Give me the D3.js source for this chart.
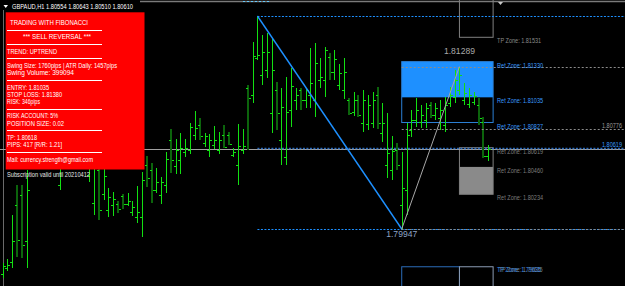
<!DOCTYPE html>
<html><head><meta charset="utf-8">
<script src="https://cdn.jsdelivr.net/npm/d3@7"></script>
<style>html,body{margin:0;padding:0;background:#000;overflow:hidden}</style>
</head><body><div id="chart"></div>
<script>
// ---- DATA ----
const symbolTitle = "GBPAUD,H1  1.80554 1.80643 1.80510 1.80610";
const barOpen = [1.79575,1.79625,1.79674,1.80145,1.80228,1.79848,1.80517,1.80765,1.80600,1.80682,
1.80889,1.80641,1.80311,1.80517,1.80724,1.80600,1.80724,1.80947,1.80393,1.80162,
1.80435,1.80236,1.80104,1.80145,1.80154,1.80220,1.80154,1.80087,1.80046,1.80046,
1.80476,1.80435,1.80269,1.80228,1.80311,1.80682,1.80468,1.80517,1.80583,1.80600,
1.80724,1.80806,1.80658,1.80600,1.80641,1.80600,1.80724,1.80724,1.80559,1.80476,
1.80600,1.81112,1.81054,1.81360,1.81219,1.81261,1.80905,1.81096,1.80682,1.80542,
1.80930,1.81013,1.81096,1.81013,1.81054,1.81013,1.81178,1.81178,1.81368,1.81244,
1.81137,1.81096,1.81013,1.80914,1.81013,1.80823,1.80815,1.80823,1.81054,1.80740,
1.80476,1.80435,1.80600,1.80145,1.80269,1.80765,1.80848,1.80831,1.80848,1.80971,
1.80889,1.80864,1.80806,1.80988,1.81038,1.81096,1.81013,1.80980,1.80996,1.80971,
1.80831,1.80554];
const barHigh = [1.79666,1.79699,1.80063,1.80311,1.80311,1.80435,1.80765,1.80848,1.80806,1.80930,
1.80971,1.80682,1.80600,1.80765,1.80806,1.80889,1.81013,1.81013,1.80682,1.80600,
1.80476,1.80443,1.80286,1.80253,1.80178,1.80236,1.80244,1.80178,1.80302,1.80418,
1.80550,1.80492,1.80451,1.80377,1.80583,1.80773,1.80691,1.80740,1.80691,1.80823,
1.80922,1.80864,1.80740,1.80732,1.80798,1.80748,1.80806,1.80748,1.80616,1.80815,
1.80773,1.81137,1.81492,1.81707,1.81550,1.81567,1.81525,1.81162,1.81112,1.81203,
1.81277,1.81112,1.81112,1.81112,1.81443,1.81484,1.81360,1.81451,1.81401,1.81426,
1.81310,1.81360,1.81029,1.81079,1.81054,1.81096,1.81054,1.81079,1.81120,1.80988,
1.80905,1.80715,1.80658,1.80583,1.80823,1.80930,1.81029,1.80971,1.80988,1.80996,
1.80988,1.81013,1.81038,1.81120,1.81261,1.81289,1.81153,1.81112,1.81079,1.81029,
1.80872,1.80643];
const barLow = [1.79542,1.79600,1.79625,1.79716,1.79707,1.79625,1.80451,1.80476,1.80517,1.80600,
1.80517,1.80451,1.80269,1.80476,1.80517,1.80559,1.80682,1.80600,1.80335,1.80063,
1.80021,1.80187,1.80046,1.80054,1.80079,1.80112,1.80137,1.80054,1.79997,1.79881,
1.80294,1.80162,1.80244,1.80154,1.80244,1.80410,1.80401,1.80401,1.80542,1.80567,
1.80682,1.80682,1.80625,1.80542,1.80608,1.80567,1.80616,1.80641,1.80542,1.80311,
1.80567,1.80600,1.80988,1.81343,1.81137,1.81195,1.80740,1.80765,1.80476,1.80476,
1.80790,1.80930,1.80930,1.80947,1.80947,1.80872,1.81112,1.81038,1.81178,1.81178,
1.81096,1.81021,1.80889,1.80881,1.80872,1.80748,1.80765,1.80782,1.80773,1.80666,
1.80368,1.80352,1.80435,1.79947,1.80063,1.80707,1.80790,1.80782,1.80782,1.80864,
1.80848,1.80765,1.80748,1.80955,1.80988,1.81054,1.80971,1.80947,1.80971,1.80806,
1.80534,1.80510];
const barClose = [1.79641,1.79650,1.79848,1.79856,1.79815,1.80269,1.80682,1.80559,1.80765,1.80864,
1.80600,1.80517,1.80517,1.80699,1.80600,1.80848,1.80947,1.80682,1.80600,1.80517,
1.80104,1.80385,1.80211,1.80195,1.80112,1.80154,1.80178,1.80129,1.80087,1.80352,
1.80368,1.80269,1.80335,1.80335,1.80526,1.80517,1.80600,1.80616,1.80616,1.80790,
1.80782,1.80715,1.80715,1.80682,1.80682,1.80682,1.80625,1.80649,1.80583,1.80633,
1.80633,1.81029,1.81376,1.81385,1.81410,1.81410,1.81261,1.80905,1.80955,1.80914,
1.81129,1.81054,1.81013,1.81096,1.81153,1.81319,1.81203,1.81426,1.81244,1.81352,
1.81236,1.81244,1.80905,1.81013,1.80889,1.81013,1.80971,1.81013,1.80823,1.80823,
1.80575,1.80592,1.80476,1.80286,1.80724,1.80848,1.80930,1.80889,1.80947,1.80889,
1.80947,1.80930,1.80971,1.81054,1.81178,1.81219,1.81071,1.81054,1.81046,1.80864,
1.80554,1.80610];
const currentPrice = 1.80610;
// swing (fib A) and retracement leg (fib B): [bar index, price]
const swingHigh = [53, 1.81707];
const swingLow = [83, 1.79947];
const retHigh = [95, 1.81289];
const fibALevels = [1.81707, 1.80619, 1.79947];
const fibBLevels = [1.81289, 1.80776, 1.79947];
const futureIdx = 102;
const sellZone = [1.81330, 1.81035, 1.80827];      // fill top, fill bottom, outline bottom
const buyZone = [1.80619, 1.80460, 1.80234];       // outline top, fill top, bottom
const tpUpper = [1.82000, 1.81531];
const tpLower = [1.79635, 1.79300];
const zoneLabelsBlue = ["Ret Zone: 1.81330","Ret Zone: 1.81035","Ret Zone: 1.80827"];
const zoneLabelsGray = ["Ret Zone: 1.80619","Ret Zone: 1.80460","Ret Zone: 1.80234"];
const panelRows = ["TRADING WITH FIBONACCI","-","*** SELL REVERSAL ***","-","TREND: UPTREND","-",
"Swing Size: 1760pips | ATR Daily: 1457pips","Swing Volume: 399094","-","ENTRY: 1.81035","STOP LOSS: 1.81380",
"RISK: 346pips","-","RISK ACCOUNT: 5%","POSITION SIZE: 0.02","-","TP: 1.80618","PIPS: 417  [R/R: 1.21]","-",
"Mail: currency.strength@gmail.com"];
const subscription = "Subscription valid until 20210412";

// ---- LAYOUT ----
const W = 625, H = 286;
const FF = "'Liberation Sans', Arial, sans-serif";
const LIME = "#12e012", DARK = "#0c640c", BLUE = "#1e90ff";
const svg = d3.select("#chart").append("svg").attr("width", W).attr("height", H).style("display","block");
svg.append("rect").attr("width", W).attr("height", H).attr("fill", "#000");

const x = d3.scaleLinear().domain([0, 101]).range([2.5, 488.3]);
const y = d3.scaleLinear().domain([swingLow[1], swingHigh[1]]).range([229, 16]);
const fmt = d3.format(".5f");

function txt(sel, s, xp, yp, o) {
  const t = sel.append("text").attr("x", xp).attr("y", yp)
    .attr("dominant-baseline", "central").attr("font-family", o.ff || FF)
    .attr("font-size", o.fs).attr("fill", o.fill).attr("text-anchor", o.anchor || "start").text(s);
  if (o.w) t.attr("textLength", o.w).attr("lengthAdjust", "spacingAndGlyphs");
  return t;
}

// frame
svg.append("line").attr("x1", 140).attr("x2", W).attr("y1", 1.5).attr("y2", 1.5).attr("stroke", "#7a7a7a").attr("stroke-width", 1.5);
svg.append("line").attr("x1", 243).attr("x2", 270).attr("y1", 1.5).attr("y2", 1.5).attr("stroke", "#66ccff").attr("stroke-dasharray", "2,2");
svg.append("line").attr("x1", 3.5).attr("x2", 3.5).attr("y1", 10).attr("y2", H).attr("stroke", "#6a6a6a");

// zones (behind bars)
const xf = x(futureIdx);
svg.append("rect").attr("x", x(swingLow[0])).attr("width", xf - x(swingLow[0]))
  .attr("y", y(sellZone[0])).attr("height", y(sellZone[1]) - y(sellZone[0])).attr("fill", BLUE);
svg.append("rect").attr("x", x(swingLow[0])).attr("width", xf - x(swingLow[0]))
  .attr("y", y(sellZone[0])).attr("height", y(sellZone[2]) - y(sellZone[0]))
  .attr("fill", "none").attr("stroke", "#2b7fd4").attr("stroke-width", 1);
svg.append("rect").attr("x", x(retHigh[0])).attr("width", xf - x(retHigh[0]))
  .attr("y", y(buyZone[1])).attr("height", y(buyZone[2]) - y(buyZone[1])).attr("fill", "#8a8a8a");
svg.append("rect").attr("x", x(retHigh[0])).attr("width", xf - x(retHigh[0]))
  .attr("y", y(buyZone[0])).attr("height", y(buyZone[2]) - y(buyZone[0]))
  .attr("fill", "none").attr("stroke", "#808080").attr("stroke-width", 1);
svg.append("rect").attr("x", x(retHigh[0])).attr("width", xf - x(retHigh[0]))
  .attr("y", y(tpUpper[0])).attr("height", y(tpUpper[1]) - y(tpUpper[0]))
  .attr("fill", "none").attr("stroke", "#808080").attr("stroke-width", 1);
svg.append("rect").attr("x", x(swingLow[0])).attr("width", x(retHigh[0]) - x(swingLow[0]))
  .attr("y", y(tpLower[0])).attr("height", y(tpLower[1]) - y(tpLower[0]))
  .attr("fill", "none").attr("stroke", "#2b6cb8").attr("stroke-width", 1);
svg.append("rect").attr("x", x(retHigh[0])).attr("width", xf - x(retHigh[0]))
  .attr("y", y(tpLower[0])).attr("height", y(tpLower[1]) - y(tpLower[0]))
  .attr("fill", "none").attr("stroke", "#8c9cb4").attr("stroke-width", 1);

// current price line
svg.append("line").attr("x1", 0).attr("x2", W).attr("y1", Math.round(y(currentPrice)) + 0.5).attr("y2", Math.round(y(currentPrice)) + 0.5)
  .attr("stroke", "#a0a0a0").attr("stroke-width", 1);

// fib A dotted levels
svg.selectAll(".fa").data(fibALevels).join("line")
  .attr("x1", x(swingHigh[0])).attr("x2", W).attr("y1", d => Math.round(y(d)) + 0.5).attr("y2", d => Math.round(y(d)) + 0.5)
  .attr("stroke", (d, i) => i === 1 ? "#2a6cc0" : BLUE).attr("stroke-width", (d, i) => i === 1 ? 1.5 : 1)
  .attr("stroke-dasharray", "2,1.5");

// bars (crisp pixels)
const bars = barOpen.map((o, i) => ({ i, o, h: barHigh[i], l: barLow[i], c: barClose[i] }));
const gb = svg.append("g").attr("shape-rendering", "crispEdges");
gb.selectAll(".bar").data(bars).join("rect")
  .attr("x", d => Math.round(x(d.i)) - (d.c < d.o ? 1 : 0))
  .attr("width", d => d.c < d.o ? 2 : 1)
  .attr("y", d => Math.round(y(d.h))).attr("height", d => Math.max(1, Math.round(y(d.l)) - Math.round(y(d.h))))
  .attr("fill", d => d.c < d.o ? DARK : LIME);
gb.selectAll(".ot").data(bars).join("rect")
  .attr("x", d => Math.round(x(d.i)) - 2).attr("width", 2)
  .attr("y", d => Math.round(y(d.o))).attr("height", 1).attr("fill", LIME);
gb.selectAll(".ct").data(bars).join("rect")
  .attr("x", d => Math.round(x(d.i)) + 1).attr("width", 2)
  .attr("y", d => Math.round(y(d.c))).attr("height", 1).attr("fill", LIME);

// fib B dotted levels (gray)
svg.selectAll(".fb").data(fibBLevels).join("line")
  .attr("x1", x(swingLow[0])).attr("x2", W).attr("y1", d => Math.round(y(d)) + 0.5).attr("y2", d => Math.round(y(d)) + 0.5)
  .attr("stroke", "#8c8c8c").attr("stroke-width", 1).attr("stroke-dasharray", "2,2");

// swing lines
svg.append("line").attr("x1", x(swingHigh[0])).attr("y1", y(swingHigh[1]))
  .attr("x2", x(swingLow[0])).attr("y2", y(swingLow[1])).attr("stroke", BLUE).attr("stroke-width", 1.4);
svg.append("line").attr("x1", x(swingLow[0])).attr("y1", y(swingLow[1]))
  .attr("x2", x(retHigh[0])).attr("y2", y(retHigh[1])).attr("stroke", "#a8a8a8").attr("stroke-width", 1);

// labels on the right
const lx = xf + 4;
txt(svg, "TP Zone: " + fmt(tpUpper[1]), lx, y(tpUpper[1]) + 3.5, { fs: 6.5, fill: "#8a8a8a", w: 44 });
zoneLabelsBlue.forEach((s, i) => txt(svg, s, lx, y(sellZone[i]) + 3.5, { fs: 6.5, fill: "#3a9bff", w: 46 }));
zoneLabelsGray.forEach((s, i) => txt(svg, s, lx, y(buyZone[i]) + 3.5, { fs: 6.5, fill: "#7c7c7c", w: 46 }));
txt(svg, "TP Zone: " + fmt(tpLower[0]), lx + 1.5, y(tpLower[0]) + 3, { fs: 6.5, fill: "#7c7c7c", w: 44 });
txt(svg, "TP Zone: " + fmt(tpLower[0]), lx, y(tpLower[0]) + 3, { fs: 6.5, fill: "#3a8ae0", w: 44 });
txt(svg, fmt(fibBLevels[1]), 602, y(fibBLevels[1]) - 3.5, { fs: 6.5, fill: "#9a9a9a", w: 20 });
txt(svg, fmt(fibALevels[1]), 602, y(fibALevels[1]) - 3, { fs: 6.5, fill: "#3a9bff", w: 20 });
txt(svg, fmt(retHigh[1]), x(retHigh[0]), y(retHigh[1]) - 16, { fs: 9.5, fill: "#a8a8a8", anchor: "middle", w: 31 });
txt(svg, fmt(swingLow[1]), x(swingLow[0]), y(swingLow[1]) + 4.5, { fs: 9.5, fill: "#8ea4c6", anchor: "middle", w: 31 });

// chart shift marker
svg.append("path").attr("d", "M498,2 L503,2 L500.5,5 Z").attr("fill", "#c8c8c8");

// title
svg.append("path").attr("d", "M3.5,5 L8,5 L5.75,8 Z").attr("fill", "#ffffff");
txt(svg, symbolTitle, 12, 6.5, { fs: 7, fill: "#ffffff", w: 121 });

// info panel
svg.append("rect").attr("x", 5.7).attr("y", 12.3).attr("width", 138.8).attr("height", 157.2).attr("fill", "#ff0000");
const rowX = [10, 7, 23, 7, 7, 7, 7, 7, 7, 7, 7, 7, 7, 7, 7, 7, 7, 7, 7, 7];
const rowW = [78, 0, 68, 0, 50, 0, 110, 67, 0, 42, 55, 33, 0, 51, 57, 0, 30, 55, 0, 86];
panelRows.forEach((s, i) => {
  const yy = 22.3 + i * 7.2;
  if (s === "-") {
    svg.append("line").attr("x1", 7).attr("x2", 102).attr("y1", Math.round(yy) + 0.5).attr("y2", Math.round(yy) + 0.5)
      .attr("stroke", "#ffffff").attr("stroke-width", 1);
  } else {
    txt(svg, s, rowX[i], yy, { fs: 7, fill: "#ffffff", w: rowW[i] });
  }
});
txt(svg, subscription, 7, 174.3, { fs: 7, fill: "#e6e6e6", w: 83 });
</script>
</body></html>
